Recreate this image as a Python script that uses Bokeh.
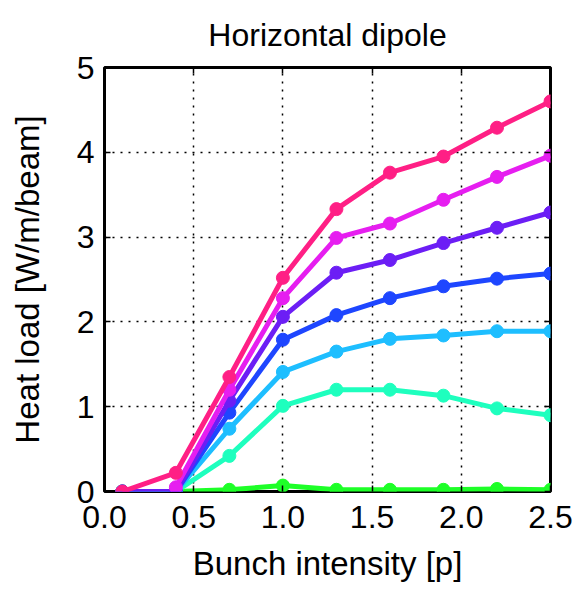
import numpy as np
from bokeh.plotting import figure
from bokeh.models import (Range1d, FixedTicker, LinearAxis, NumeralTickFormatter, Title, Grid,
                          CustomJSTickFormatter)
from bokeh.embed import file_html
from bokeh.resources import INLINE

# Data
bunch_intensity = [0.1, 0.4, 0.7, 1.0, 1.3, 1.6, 1.9, 2.2, 2.5]
nan = float("nan")
series_green = [0.0, 0.0, 0.02, 0.07, 0.02, 0.02, 0.02, 0.03, 0.02]
series_aqua = [0.0, 0.0, 0.42, 1.01, 1.20, 1.20, 1.13, 0.98, 0.90]
series_lightblue = [0.0, 0.0, 0.74, 1.41, 1.65, 1.80, 1.84, 1.89, 1.89]
series_blue = [0.0, 0.0, 0.93, 1.79, 2.08, 2.28, 2.42, 2.51, 2.57]
series_violet = [0.0, 0.0, 1.07, 2.06, 2.58, 2.73, 2.93, 3.11, 3.29]
series_magenta = [nan, 0.05, 1.20, 2.28, 2.99, 3.16, 3.44, 3.71, 3.96]
series_pink = [0.0, 0.22, 1.35, 2.52, 3.33, 3.76, 3.95, 4.29, 4.60]
series_colors = ["#1eff28", "#1effbe", "#1ebeff", "#1e46ff", "#6c1ef5", "#e61ef0", "#ff1f85"]
all_series = [series_green, series_aqua, series_lightblue, series_blue,
              series_violet, series_magenta, series_pink]
x_ticks = [0.0, 0.5, 1.0, 1.5, 2.0, 2.5]
y_ticks = [0, 1, 2, 3, 4, 5]

FONT = "Liberation Sans"

p = figure(width=576, height=590, output_backend="svg", toolbar_location=None,
           x_range=Range1d(0, 2.5), y_range=Range1d(0, 5),
           min_border_left=104, min_border_right=26, min_border_top=67,
           min_border_bottom=99, x_axis_type=None, y_axis_type=None)

p.title = Title(text="Horizontal dipole", align="center", vertical_align="top",
                text_font=FONT, text_font_size="32px", text_font_style="normal",
                text_color="black", offset=0, standoff=25)

def style_axis(ax, ticks, labels=True):
    ax.ticker = FixedTicker(ticks=ticks)
    ax.axis_line_color = None
    ax.major_tick_in = 6
    ax.major_tick_out = 0
    ax.major_tick_line_color = "black"
    ax.major_tick_line_width = 1.5
    ax.minor_tick_line_color = None
    ax.major_label_text_font = FONT
    ax.major_label_text_font_size = "32px" if labels else "1px"
    ax.major_label_text_color = "black"
    ax.major_label_standoff = 10 if labels else 0
    ax.axis_label_text_font = FONT
    ax.axis_label_text_font_size = "33px"
    ax.axis_label_text_font_style = "normal"
    ax.axis_label_text_color = "black"

blank = CustomJSTickFormatter(code="return '';")
xb = LinearAxis(axis_label="Bunch intensity [p]", formatter=NumeralTickFormatter(format="0.0"))
xt = LinearAxis(formatter=blank)
yl = LinearAxis(axis_label="Heat load [W/m/beam]", formatter=NumeralTickFormatter(format="0"))
yr = LinearAxis(formatter=blank)
style_axis(xb, x_ticks)
style_axis(xt, x_ticks, labels=False)
style_axis(yl, y_ticks)
style_axis(yr, y_ticks, labels=False)
xb.major_label_standoff = 14
xb.axis_label_standoff = 14
yl.axis_label_standoff = 28
p.add_layout(xb, "below")
p.add_layout(yl, "left")
p.add_layout(xt, "above")
p.add_layout(yr, "right")

gx = Grid(dimension=0, ticker=FixedTicker(ticks=x_ticks), grid_line_color="black",
          grid_line_dash="2 6", grid_line_width=1.5)
gy = Grid(dimension=1, ticker=FixedTicker(ticks=y_ticks), grid_line_color="black",
          grid_line_dash="2 6", grid_line_width=1.5)
p.add_layout(gx)
p.add_layout(gy)

for vals, col in zip(all_series, series_colors):
    p.line(bunch_intensity, vals, line_color=col, line_width=5)
    p.scatter(bunch_intensity, vals, size=13, fill_color=col, line_color=col)

p.outline_line_color = "black"
p.outline_line_width = 3
p.background_fill_color = "white"
p.border_fill_color = "white"

open("out.html", "w").write(file_html(p, INLINE))
